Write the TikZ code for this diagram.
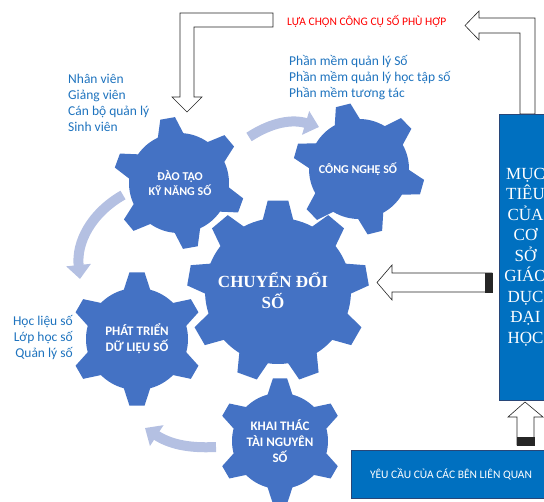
\documentclass[tikz,border=0pt]{standalone}
\usepackage{fontspec}
\setmainfont{Carlito}
\newfontfamily\timesfont{Liberation Serif}
\usetikzlibrary{positioning,arrows.meta}

\definecolor{gearblue}{RGB}{68,114,196}
\definecolor{arcblue}{RGB}{180,192,226}
\definecolor{boxblue}{RGB}{0,112,192}
\definecolor{boxline}{RGB}{40,70,120}
\definecolor{listblue}{RGB}{30,115,190}
\definecolor{choosered}{RGB}{255,0,0}

\newcommand{\drawgear}[7]{%
  \fill[gearblue, shift={(#1)}] (#5-#7:#3)
    \foreach \k in {1,...,#2} {
      -- ({#5+(\k-1)*360/#2-#6}:#4) -- ({#5+(\k-1)*360/#2+#6}:#4)
      -- ({#5+(\k-1)*360/#2+#7}:#3)
      arc[start angle={#5+(\k-1)*360/#2+#7}, delta angle={360/#2-2*#7}, radius=#3]
    } -- cycle;
}

\begin{document}
\begin{tikzpicture}[x=1pt, y=-1pt,
    gearlabel/.style={text=white, font=\bfseries\fontsize{12}{15}\selectfont, align=center},
    listtext/.style={text=listblue, font=\fontsize{13.5}{16}\selectfont, inner sep=0pt},
    blockarrow/.style={draw=black!85, fill=white, line width=0.6pt},
    stripe/.style={draw=black!85, fill=black!85, line width=0.3pt},
    cyclearrow/.style={draw=arcblue, line width=10pt, -{Triangle[width=24pt,length=14pt]}}]
  \useasboundingbox (0,0) rectangle (544,502);
  \clip (0,0) rectangle (544,502);

  \coordinate (bigc) at (278,291);
  \coordinate (daoc) at (179,183);
  \coordinate (congc) at (359,169);
  \coordinate (phatc) at (137,339);
  \coordinate (khaic) at (280,441);

  \coordinate (arcA1) at (249,137);
  \coordinate (arcA2) at (319,127);
  \coordinate (arcB1) at (123,195);
  \coordinate (arcB2) at (80,279);
  \coordinate (arcC1) at (216,447);
  \coordinate (arcC2) at (145,428);

  \draw[cyclearrow] (arcA1) to[bend left=25] (arcA2);
  \draw[cyclearrow] (arcB1) to[bend right=33] (arcB2);
  \draw[cyclearrow] (arcC1) to[bend left=18] (arcC2);

  \drawgear{bigc}{9}{73}{91}{30}{6.5}{12}
  \drawgear{daoc}{6}{50}{66}{20}{6.5}{15}
  \drawgear{congc}{6}{50}{66}{16}{6.5}{15}
  \drawgear{phatc}{6}{51}{67}{30}{6.5}{15}
  \drawgear{khaic}{6}{48}{63}{30}{6.5}{15}

  \draw (273,291) node[gearlabel, font=\timesfont\bfseries\fontsize{17}{21}\selectfont] (chuyen) {CHUYỂN ĐỔI\\SỐ};
  \draw (180,183) node[gearlabel] (dao) {ĐÀO TẠO\\KỸ NĂNG SỐ};
  \draw (358,169) node[gearlabel] (cong) {CÔNG NGHỆ SỐ};
  \draw (137,339) node[gearlabel, font=\bfseries\fontsize{13}{16}\selectfont] (phat) {PHÁT TRIỂN\\DỮ LIỆU SỐ};
  \draw (280,441) node[gearlabel, font=\bfseries\fontsize{13}{16}\selectfont] (khai) {KHAI THÁC\\TÀI NGUYÊN\\SỐ};

  \draw (68,103) node[listtext, anchor=west, align=left] (users)
  {Nhân viên\\Giảng viên\\Cán bộ quản lý\\Sinh viên};
  \draw (289,78) node[listtext, anchor=west, align=left] (software)
  {Phần mềm quản lý Số\\Phần mềm quản lý học tập số\\Phần mềm tương tác};
  \draw (73,338) node[listtext, anchor=east, align=right] (content)
  {Học liệu số\\Lớp học số\\Quản lý số};
  \draw (287,26) node[anchor=base west, inner sep=0pt, text=choosered,
  font=\fontsize{11.5}{14}\selectfont] (choose) {LỰA CHỌN CÔNG CỤ SỐ PHÙ HỢP};

  \draw[blockarrow] (273,13) -- (180,13) -- (180,97) -- (172,97) -- (187,112)
  -- (202,97) -- (194,97) -- (194,27) -- (273,27) -- cycle;
  \draw[blockarrow] (520,114) -- (520,33) -- (479,33) -- (479,40) -- (465,25.5)
  -- (479,11) -- (479,18) -- (535,18) -- (535,114) -- cycle;

  \coordinate (ltip) at (377,282.5);
  \draw[blockarrow] (ltip) -- ++(15,-17.5) -- ++(0,8) -- ++(100,0) -- ++(0,19)
  -- ++(-100,0) -- ++(0,8) -- cycle;
  \draw[stripe] (485,273) rectangle (487.2,292);
  \draw[stripe] (488.6,273) rectangle (492,292);

  \coordinate (utip) at (525,402);
  \draw[blockarrow] (utip) -- ++(18,15) -- ++(-9,0) -- ++(0,28) -- ++(-17,0)
  -- ++(0,-28) -- ++(-9,0) -- cycle;
  \draw[stripe] (517,437.5) rectangle (534,439.8);
  \draw[stripe] (517,441.2) rectangle (534,445);

  \draw (525.5,257) node[draw=boxline, fill=boxblue, line width=0.8pt,
  minimum width=53pt, minimum height=286pt, align=center, text=white,
  font=\timesfont\fontsize{17}{20.5}\selectfont] (muctieu)
  {MỤC\\TIÊU\\CỦA\\CƠ\\SỞ\\GIÁO\\DỤC\\ĐẠI\\HỌC};

  \draw (451,474) node[draw=boxline, fill=boxblue, line width=0.8pt,
  minimum width=200pt, minimum height=48pt, text=white,
  font=\fontsize{11.5}{14}\selectfont] (yeucau) {YÊU CẦU CỦA CÁC BÊN LIÊN QUAN};
\end{tikzpicture}
\end{document}
